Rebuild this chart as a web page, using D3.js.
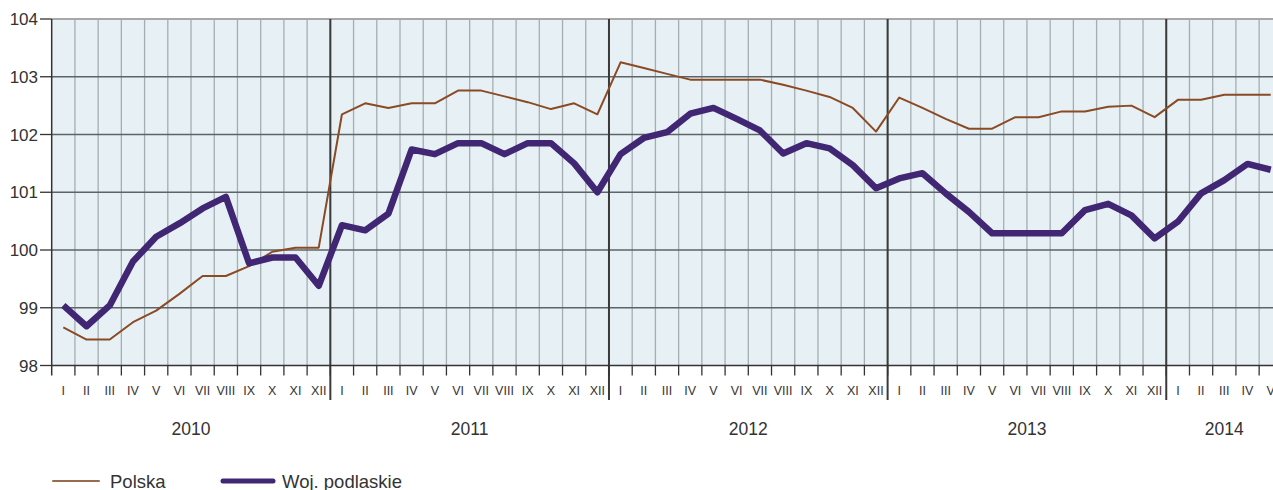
<!DOCTYPE html>
<html><head><meta charset="utf-8">
<script src="https://cdn.jsdelivr.net/npm/d3@7"></script>
<style>
html,body{margin:0;padding:0;background:#fff;overflow:hidden;}
text{font-family:Arial,"Liberation Sans",sans-serif;fill:#333;}
</style></head>
<body><svg id="c" width="1273" height="490"></svg>
<script>
const months = ["I","II","III","IV","V","VI","VII","VIII","IX","X","XI","XII"];
const years = ["2010","2011","2012","2013","2014"];
const yearMonths = [12,12,12,12,5];
const yTicks = [98,99,100,101,102,103,104];
const polska = [98.66,98.45,98.45,98.75,98.95,99.24,99.55,99.55,99.72,99.97,100.04,100.04,
  102.35,102.54,102.46,102.54,102.54,102.76,102.76,102.66,102.56,102.44,102.54,102.35,
  103.25,103.15,103.05,102.95,102.95,102.95,102.95,102.86,102.76,102.65,102.46,102.05,
  102.64,102.46,102.27,102.1,102.1,102.3,102.3,102.4,102.4,102.48,102.5,102.3,
  102.6,102.6,102.69,102.69,102.69];
const podlaskie = [99.04,98.68,99.04,99.8,100.23,100.46,100.72,100.92,99.77,99.87,99.87,99.38,
  100.43,100.34,100.63,101.74,101.66,101.85,101.85,101.66,101.85,101.85,101.5,101.0,
  101.66,101.94,102.04,102.36,102.46,102.27,102.07,101.67,101.85,101.76,101.47,101.07,
  101.24,101.33,100.98,100.66,100.29,100.29,100.29,100.29,100.69,100.8,100.6,100.2,
  100.49,100.98,101.21,101.49,101.39];
const seriesNames = ["Polska","Woj. podlaskie"];

const svg = d3.select("#c");
const N = polska.length;
const left = 51.7, step = 23.22;
const x = d3.scaleLinear().domain([0, N]).range([left, left + N*step]);
const y = d3.scaleLinear().domain([98, 104]).range([365.5, 19]);
const x0 = x(0), x1 = x(N);

// background
svg.append("rect").attr("x", x0).attr("y", y(104)).attr("width", x1-x0).attr("height", y(98)-y(104)).attr("fill", "#e7f1f5");

// vertical month grid
const idx = d3.range(N+1);
svg.selectAll(".vg").data(idx.slice(1)).enter().append("line")
  .attr("x1", d=>x(d)).attr("x2", d=>x(d)).attr("y1", y(104)).attr("y2", y(98))
  .attr("stroke", "#a4aeb2").attr("stroke-width", 1.3);

// horizontal grid
svg.selectAll(".hg").data(yTicks.slice(1,-1)).enter().append("line")
  .attr("x1", x0).attr("x2", x1).attr("y1", d=>y(d)).attr("y2", d=>y(d))
  .attr("stroke", "#5d6366").attr("stroke-width", 1.3);
// top border
svg.append("line").attr("x1", x0).attr("x2", x1).attr("y1", y(104)).attr("y2", y(104))
  .attr("stroke", "#a8a8a8").attr("stroke-width", 2);

// year dividers
const yearStarts = [];
let acc = 0;
yearMonths.forEach(m => { yearStarts.push(acc); acc += m; });
svg.selectAll(".yd").data(yearStarts.slice(1)).enter().append("line")
  .attr("x1", d=>x(d)).attr("x2", d=>x(d)).attr("y1", y(104)).attr("y2", 400)
  .attr("stroke", "#3a3a3a").attr("stroke-width", 2);

// month ticks
svg.selectAll(".mt").data(idx.slice(1)).enter().append("line")
  .attr("x1", d=>x(d)).attr("x2", d=>x(d)).attr("y1", y(98)).attr("y2", y(98)+10)
  .attr("stroke", "#333").attr("stroke-width", 1.3);

// y axis
svg.append("line").attr("x1", x0).attr("x2", x0).attr("y1", y(104)).attr("y2", y(98)+10)
  .attr("stroke", "#333").attr("stroke-width", 1.5);
svg.append("line").attr("x1", x0).attr("x2", x1).attr("y1", y(98)).attr("y2", y(98))
  .attr("stroke", "#333").attr("stroke-width", 1.5);
svg.selectAll(".yt").data(yTicks).enter().append("line")
  .attr("x1", 40).attr("x2", x0).attr("y1", d=>y(d)).attr("y2", d=>y(d))
  .attr("stroke", "#333").attr("stroke-width", 1.3);
svg.selectAll(".yl").data(yTicks).enter().append("text")
  .attr("x", 38).attr("y", d=>y(d)).attr("dy", "0.36em").attr("text-anchor", "end")
  .attr("font-size", 17).text(d=>d);

// month labels
svg.selectAll(".ml").data(d3.range(N)).enter().append("text")
  .attr("x", d=>x(d+0.5)).attr("y", 394.5).attr("text-anchor", "middle")
  .attr("font-size", 12.5).attr("fill", "#333").text(d=>months[d%12]);

// year labels
svg.selectAll(".yrl").data(years).enter().append("text")
  .attr("x", (d,i)=>x(yearStarts[i] + yearMonths[i]/2)).attr("y", 434.5)
  .attr("text-anchor", "middle").attr("font-size", 17.5).text(d=>d);

// lines
const line = d3.line().x((d,i)=>x(i+0.5)).y(d=>y(d));
svg.append("path").datum(polska).attr("d", line).attr("fill", "none")
  .attr("stroke", "#8a4a24").attr("stroke-width", 2).attr("stroke-linejoin", "round");
svg.append("path").datum(podlaskie).attr("d", line).attr("fill", "none")
  .attr("stroke", "#402673").attr("stroke-width", 6.5).attr("stroke-linejoin", "round");

// legend
const leg = [{name: seriesNames[0], c:"#9a6a4e", w:2, x1:53, x2:99, tx:110},
             {name: seriesNames[1], c:"#402673", w:5, x1:223, x2:273, tx:282}];
leg.forEach(l => {
  svg.append("line").attr("x1", l.x1).attr("x2", l.x2).attr("y1", 481).attr("y2", 481)
    .attr("stroke", l.c).attr("stroke-width", l.w).attr("stroke-linecap", "round");
  svg.append("text").attr("x", l.tx).attr("y", 488).attr("font-size", 18.5).text(l.name);
});
</script></body></html>
